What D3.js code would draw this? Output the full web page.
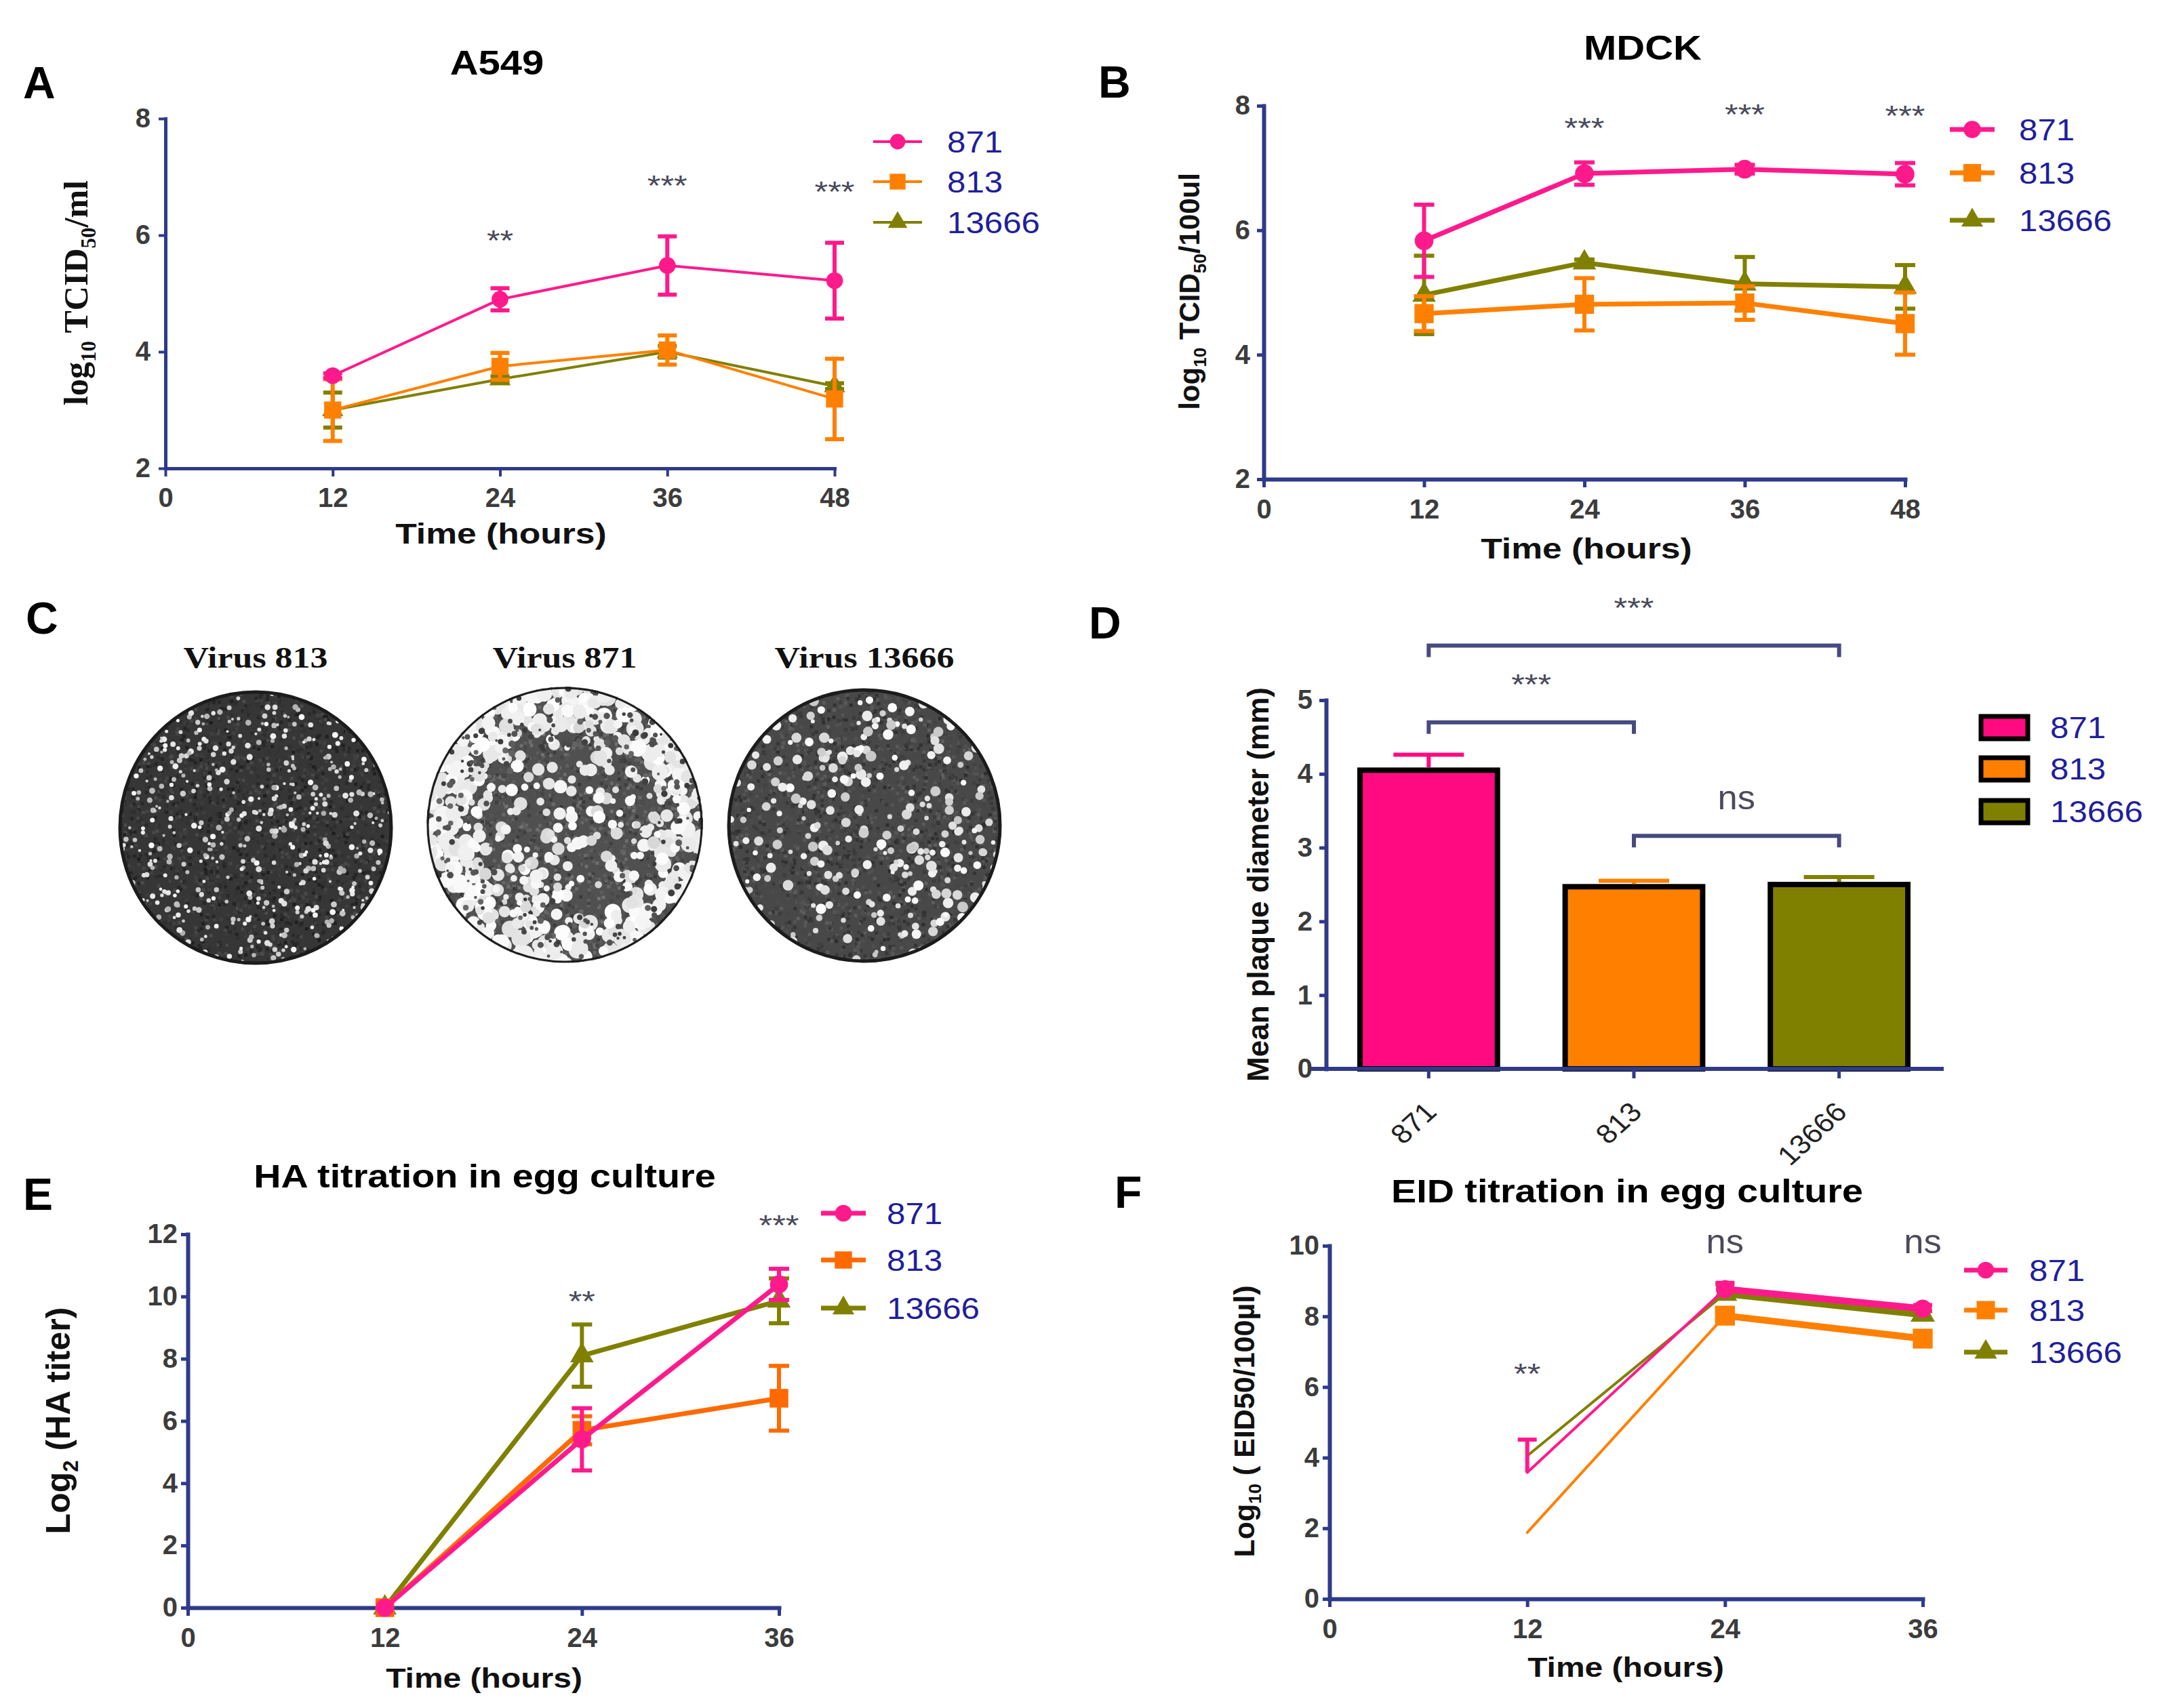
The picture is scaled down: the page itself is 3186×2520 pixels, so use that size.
<!doctype html>
<html lang="en">
<head>
<meta charset="utf-8">
<title>Virus growth and plaque panels</title>
<script src="https://cdn.jsdelivr.net/npm/d3@7"></script>
<style>
  body { margin: 0; background: #fff; }
  svg { display: block; }
  text { white-space: pre; }
</style>
</head>
<body>
<svg id="fig" width="3186" height="2520"></svg>
<script>
// ---- data ----
var strains = ["871", "813", "13666"];
var hours48 = [12, 24, 36, 48];
var hours36 = [12, 24, 36];
var ticksX48 = [0, 12, 24, 36, 48];
var ticksX36 = [0, 12, 24, 36];
var ticksLog = [2, 4, 6, 8];
var ticksHA = [0, 2, 4, 6, 8, 10, 12];
var ticksEID = [0, 2, 4, 6, 8, 10];
var ticksPlaque = [0, 1, 2, 3, 4, 5];

// A: A549, log10 TCID50/ml
var a549_871 = [3.59, 4.90, 5.48, 5.22];
var a549_871_err = [0.04, 0.19, 0.50, 0.65];
var a549_813 = [3.00, 3.75, 4.03, 3.19];
var a549_813_err = [0.53, 0.23, 0.25, 0.69];
var a549_13666 = [3.00, 3.53, 4.00, 3.41];
var a549_13666_err = [0.30, 0.05, 0.10, 0.05];
var a549_sig = ["**", "***", "***"];
var a549_sigAt = [24, 36, 48];
var a549_sigY = [6.03, 6.97, 6.86];

// B: MDCK, log10 TCID50/100ul
var mdck_871 = [5.83, 6.91, 6.98, 6.90];
var mdck_871_err = [0.58, 0.18, 0.07, 0.18];
var mdck_813 = [4.66, 4.81, 4.83, 4.50];
var mdck_813_err = [0.28, 0.42, 0.27, 0.50];
var mdck_13666 = [4.96, 5.48, 5.14, 5.09];
var mdck_13666_err = [0.63, 0.05, 0.43, 0.35];
var mdck_sig = ["***", "***", "***"];
var mdck_sigAt = [24, 36, 48];
var mdck_sigY = [7.75, 7.97, 7.95];

// C: plate titles
var plateTitles = ["Virus 813", "Virus 871", "Virus 13666"];

// D: mean plaque diameter (mm)
var plaqueMean = [4.05, 2.47, 2.50];
var plaqueErr = [0.21, 0.08, 0.10];
var bracketFrom = ["871", "871", "813"];
var bracketTo = ["13666", "813", "13666"];
var bracketY = [5.74, 4.70, 3.16];
var bracketLabel = ["***", "***", "ns"];

// E: HA titration, log2 HA titer
var ha_871 = [0, 5.41, 10.39];
var ha_871_err = [0, 1.00, 0.50];
var ha_813 = [0, 5.70, 6.73];
var ha_813_err = [0, 0.45, 1.04];
var ha_13666 = [0, 8.10, 9.86];
var ha_13666_err = [0, 1.00, 0.72];
var ha_sig = ["**", "***"];
var ha_sigAt = [24, 36];
var ha_sigY = [10.08, 12.5];

// F: EID titration, log10 EID50/100ul (error bars drawn upward only)
var eid_871 = [3.58, 8.77, 8.22];
var eid_871_err = [0.93, 0.18, 0.10];
var eid_813 = [1.88, 8.02, 7.37];
var eid_813_err = [0, 0.10, 0.10];
var eid_13666 = [4.05, 8.64, 8.05];
var eid_13666_err = [0, 0.26, 0.10];
var eid_sig = ["**", "ns", "ns"];
var eid_sigAt = [12, 24, 36];
var eid_sigY = [6.58, 10.04, 10.04];

// ---- styles ----
var SANS = "'Liberation Sans', Arial, Helvetica, sans-serif";
var SERIF = "'Liberation Serif', 'Times New Roman', serif";
var AXIS = "#2f3a8a";
var LEGEND = "#1f1f9a";
var STAR = "#4a4a5a";
var colorsMain = {"871": "#ff1a8c", "813": "#ff8000", "13666": "#808000"};
var colorsEgg = {"871": "#ff1a8c", "813": "#ff6a00", "13666": "#808000"};
var barColors = {"871": "#ff0a80", "813": "#ff8000", "13666": "#808000"};
var symbols = {"871": d3.symbolCircle, "813": d3.symbolSquare, "13666": d3.symbolTriangle};
var intFmt = d3.format("d");

var svg = d3.select("#fig");
svg.append("rect").attr("width", 3186).attr("height", 2520).attr("fill", "#fff");
var defs = svg.append("defs");

function label(g, str, x, y, o) {
  o = o || {};
  var tr = "translate(" + x + "," + y + ")";
  if (o.sx && o.sx != 1) tr += " scale(" + o.sx + ",1)";
  if (o.rot) tr += " rotate(" + o.rot + ")";
  return g.append("text")
    .attr("transform", tr)
    .attr("text-anchor", o.anchor || "start")
    .style("font-family", o.family || SANS)
    .style("font-size", (o.size || 40) + "px")
    .style("font-weight", o.weight || "normal")
    .style("fill", o.fill || "#000")
    .text(str);
}

// text made of [string, isSubscript] parts
function subLabel(g, parts, x, y, o) {
  var t = label(g, "", x, y, o);
  var shift = 0;
  parts.forEach(function (p) {
    var ts = t.append("tspan").text(p[0]);
    var want = p[1] ? o.size * 0.24 : 0;
    if (want != shift) ts.attr("dy", want - shift);
    if (p[1]) ts.style("font-size", (o.size * 0.62) + "px");
    shift = want;
  });
  return t;
}

function styleAxis(ax, w) {
  ax.select(".domain").attr("stroke", AXIS).attr("stroke-width", w).attr("stroke-linecap", "square");
  ax.selectAll(".tick line").attr("stroke", AXIS).attr("stroke-width", w - 1);
  ax.selectAll(".tick text")
    .style("font-family", SANS).style("font-size", "40px").style("font-weight", "bold")
    .attr("fill", "#3c3c3c");
}

function sigLabels(g, labels, xs, ys) {
  labels.forEach(function (s, i) {
    var isNs = s == "ns";
    var size = isNs ? 50 : 42;
    label(g, s, xs[i], ys[i] + (isNs ? 0.26 : 0.58) * size,
      {size: size, sx: isNs ? 1.05 : 1.2, anchor: "middle", fill: STAR});
  });
}

function linePanel(p) {
  var x = d3.scaleLinear().domain([0, p.xMax]).range([p.left, p.right]);
  var y = d3.scaleLinear().domain(p.yDomain).range([p.bottom, p.top]);
  var g = svg.append("g");

  var ax = g.append("g").attr("transform", "translate(0," + p.bottom + ")")
    .call(d3.axisBottom(x).tickValues(p.xTicks).tickFormat(intFmt).tickSize(12).tickSizeOuter(0).tickPadding(p.xPad));
  var ay = g.append("g").attr("transform", "translate(" + p.left + ",0)")
    .call(d3.axisLeft(y).tickValues(p.yTicks).tickFormat(intFmt).tickSize(10).tickSizeOuter(0).tickPadding(p.yPad));
  styleAxis(ax, p.axisW);
  styleAxis(ay, p.axisW);

  // 871 last so it sits on top
  p.series.slice().reverse().forEach(function (s) {
    var c = p.colors[s.name];
    var pts = p.times.map(function (t, i) { return {t: t, v: s.mean[i], e: s.err[i]}; });

    for (var i = 1; i < pts.length; i++) {
      g.append("line")
        .attr("x1", x(pts[i - 1].t)).attr("y1", y(pts[i - 1].v))
        .attr("x2", x(pts[i].t)).attr("y2", y(pts[i].v))
        .attr("stroke", c).attr("stroke-linecap", "round")
        .attr("stroke-width", p.segW ? p.segW[i - 1] : p.lineW);
    }

    pts.forEach(function (d) {
      if (!d.e) return;
      var hi = y(d.v + d.e), lo = p.upOnly ? y(d.v) : y(d.v - d.e);
      g.append("line").attr("x1", x(d.t)).attr("x2", x(d.t)).attr("y1", lo).attr("y2", hi)
        .attr("stroke", c).attr("stroke-width", p.barW);
      (p.upOnly ? [hi] : [hi, lo]).forEach(function (cy) {
        g.append("line").attr("x1", x(d.t) - p.capW / 2).attr("x2", x(d.t) + p.capW / 2)
          .attr("y1", cy).attr("y2", cy).attr("stroke", c).attr("stroke-width", p.barW);
      });
    });

    g.selectAll(null).data(pts.slice(p.markFrom || 0)).enter().append("path")
      .attr("transform", function (d) { return "translate(" + x(d.t) + "," + y(d.v) + ")"; })
      .attr("d", d3.symbol().type(symbols[s.name]).size(p.sym[s.name]))
      .attr("fill", c);
  });

  // legend
  strains.forEach(function (name, i) {
    var ly = p.legY[i], c = p.colors[name];
    g.append("line").attr("x1", p.legX).attr("x2", p.legX + p.legLen).attr("y1", ly).attr("y2", ly)
      .attr("stroke", c).attr("stroke-width", p.legLineW);
    g.append("path").attr("transform", "translate(" + (p.legX + p.legLen / 2) + "," + ly + ")")
      .attr("d", d3.symbol().type(symbols[name]).size(p.sym[name] * 0.85)).attr("fill", c);
    label(g, name, p.legText, ly + 16, {size: 44, sx: 1.12, fill: LEGEND});
  });

  sigLabels(g, p.sig, p.sigAt.map(x), p.sigY.map(y));

  label(g, p.letter, p.letterX, p.letterY, {size: 66, weight: "bold"});
  label(g, p.title, p.titleX, p.titleY, {size: p.titleSize, sx: 1.16, weight: "bold", anchor: "middle"});
  label(g, "Time (hours)", p.xtX, p.xtY, {size: p.xtSize, sx: 1.2, weight: "bold", anchor: "middle", fill: "#111"});
  subLabel(g, p.ytParts, p.ytX, p.ytY, {size: p.ytSize, weight: "bold", anchor: "middle", rot: -90, family: p.ytFamily || SANS, fill: "#111"});
}

// ---- A ----
linePanel({
  left: 244, right: 1231, top: 175, bottom: 691, xMax: 48, yDomain: [2, 8],
  xTicks: ticksX48, yTicks: ticksLog, xPad: 17, yPad: 12, axisW: 5,
  times: hours48, colors: colorsMain,
  series: [
    {name: "871", mean: a549_871, err: a549_871_err},
    {name: "813", mean: a549_813, err: a549_813_err},
    {name: "13666", mean: a549_13666, err: a549_13666_err}
  ],
  lineW: 4, barW: 6, capW: 28,
  sym: {"871": 480, "813": 640, "13666": 420},
  legX: 1288, legLen: 72, legY: [209, 268, 328], legText: 1397, legLineW: 4,
  sig: a549_sig, sigAt: a549_sigAt, sigY: a549_sigY,
  letter: "A", letterX: 34, letterY: 145,
  title: "A549", titleX: 733, titleY: 110, titleSize: 50,
  xtX: 739, xtY: 802, xtSize: 43,
  ytParts: [["log", 0], ["10", 1], [" TCID", 0], ["50", 1], ["/ml", 0]], ytX: 129, ytY: 432, ytSize: 50, ytFamily: SERIF
});

// ---- B ----
linePanel({
  left: 1864, right: 2810, top: 156, bottom: 707, xMax: 48, yDomain: [2, 8],
  xTicks: ticksX48, yTicks: ticksLog, xPad: 18, yPad: 10, axisW: 6,
  times: hours48, colors: colorsMain,
  series: [
    {name: "871", mean: mdck_871, err: mdck_871_err},
    {name: "813", mean: mdck_813, err: mdck_813_err},
    {name: "13666", mean: mdck_13666, err: mdck_13666_err}
  ],
  lineW: 7, barW: 6, capW: 30,
  sym: {"871": 600, "813": 800, "13666": 520},
  legX: 2876, legLen: 66, legY: [191, 255, 325], legText: 2978, legLineW: 7,
  sig: mdck_sig, sigAt: mdck_sigAt, sigY: mdck_sigY,
  letter: "B", letterX: 1620, letterY: 144,
  title: "MDCK", titleX: 2423, titleY: 88, titleSize: 50,
  xtX: 2340, xtY: 824, xtSize: 43,
  ytParts: [["log", 0], ["10", 1], [" TCID", 0], ["50", 1], ["/100ul", 0]], ytX: 1769, ytY: 430, ytSize: 42
});

// ---- E ----
linePanel({
  left: 277, right: 1149, top: 1821, bottom: 2372, xMax: 36, yDomain: [0, 12],
  xTicks: ticksX36, yTicks: ticksHA, xPad: 18, yPad: 5, axisW: 6,
  times: hours36, colors: colorsEgg,
  series: [
    {name: "871", mean: ha_871, err: ha_871_err},
    {name: "813", mean: ha_813, err: ha_813_err},
    {name: "13666", mean: ha_13666, err: ha_13666_err}
  ],
  lineW: 7, barW: 6, capW: 30,
  sym: {"871": 560, "813": 760, "13666": 520},
  legX: 1211, legLen: 66, legY: [1790, 1859, 1930], legText: 1308, legLineW: 7,
  sig: ha_sig, sigAt: ha_sigAt, sigY: ha_sigY,
  letter: "E", letterX: 34, letterY: 1785,
  title: "HA titration in egg culture", titleX: 715, titleY: 1752, titleSize: 48,
  xtX: 714, xtY: 2490, xtSize: 40,
  ytParts: [["Log", 0], ["2", 1], [" (HA titer)", 0]], ytX: 103, ytY: 2096, ytSize: 50
});

// ---- F ----
linePanel({
  left: 1961, right: 2836, top: 1838, bottom: 2359, xMax: 36, yDomain: [0, 10],
  xTicks: ticksX36, yTicks: ticksEID, xPad: 18, yPad: 5, axisW: 6,
  times: hours36, colors: colorsMain,
  series: [
    {name: "871", mean: eid_871, err: eid_871_err},
    {name: "813", mean: eid_813, err: eid_813_err},
    {name: "13666", mean: eid_13666, err: eid_13666_err}
  ],
  segW: [4, 10], barW: 6, capW: 28, upOnly: true, markFrom: 1,
  sym: {"871": 560, "813": 860, "13666": 560},
  legX: 2897, legLen: 64, legY: [1874, 1933, 1995], legText: 2993, legLineW: 7,
  sig: eid_sig, sigAt: eid_sigAt, sigY: eid_sigY,
  letter: "F", letterX: 1644, letterY: 1782,
  title: "EID titration in egg culture", titleX: 2400, titleY: 1774, titleSize: 48,
  xtX: 2398, xtY: 2474, xtSize: 40,
  ytParts: [["Log", 0], ["10", 1], [" ( EID50/100\u00b5l)", 0]], ytX: 1850, ytY: 2097, ytSize: 43
});

// ---- C: plaque plates (photo texture, seeded so it is the same every run) ----
function plate(id, cx, cy, r, st) {
  defs.append("clipPath").attr("id", id).append("circle").attr("cx", cx).attr("cy", cy).attr("r", r);
  var g = svg.append("g").attr("clip-path", "url(#" + id + ")");
  var rnd = d3.randomLcg(st.seed);
  g.append("circle").attr("cx", cx).attr("cy", cy).attr("r", r).attr("fill", st.base);
  for (var k = 0; k < 2600; k++) {
    var v = Math.round(st.grain[0] + rnd() * (st.grain[1] - st.grain[0]));
    g.append("rect").attr("x", cx - r + rnd() * 2 * r).attr("y", cy - r + rnd() * 2 * r)
      .attr("width", 5).attr("height", 5).attr("fill", d3.rgb(v, v, v));
  }
  st.spots.forEach(function (sp) {
    for (var k = 0; k < sp.n; k++) {
      var a = rnd() * 2 * Math.PI;
      var rr = r * Math.sqrt(sp.r0 * sp.r0 + rnd() * (sp.r1 * sp.r1 - sp.r0 * sp.r0));
      var v = Math.round(sp.c0 + rnd() * (sp.c1 - sp.c0));
      g.append("circle").attr("cx", cx + rr * Math.cos(a)).attr("cy", cy + rr * Math.sin(a))
        .attr("r", sp.s0 + rnd() * (sp.s1 - sp.s0)).attr("fill", d3.rgb(v, v, v));
    }
  });
  svg.append("circle").attr("cx", cx).attr("cy", cy).attr("r", r - 2)
    .attr("fill", "none").attr("stroke", "#1c1c1c").attr("stroke-width", st.rim);
}

var gc = svg.append("g");
label(gc, "C", 38, 935, {size: 66, weight: "bold"});
var plateCx = [377, 833, 1275];
plateTitles.forEach(function (t, i) {
  label(gc, t, plateCx[i], 985, {size: 44, sx: 1.18, weight: "bold", anchor: "middle", family: SERIF, fill: "#111"});
});
plate("p813", plateCx[0], 1221, 202, {seed: 11, base: "#363636", grain: [30, 75], rim: 5,
  spots: [{n: 480, r0: 0, r1: 1, s0: 2, s1: 4.5, c0: 175, c1: 250}]});
plate("p871", plateCx[1], 1217, 204, {seed: 23, base: "#505050", grain: [55, 115], rim: 3,
  spots: [{n: 420, r0: 0.72, r1: 1.0, s0: 6, s1: 13, c0: 225, c1: 255},
          {n: 210, r0: 0, r1: 0.76, s0: 4, s1: 10, c0: 215, c1: 255},
          {n: 220, r0: 0.55, r1: 1.0, s0: 2, s1: 5, c0: 55, c1: 105}]});
plate("p13666", plateCx[2], 1218, 202, {seed: 37, base: "#484848", grain: [45, 95], rim: 5,
  spots: [{n: 260, r0: 0, r1: 1, s0: 3, s1: 8, c0: 200, c1: 255}]});

// ---- D: bar chart ----
var gd = svg.append("g");
var xb = d3.scaleBand().domain(strains).range([1956, 2864]).paddingInner(0.33).paddingOuter(0.165);
var yb = d3.scaleLinear().domain([0, 5]).range([1577, 1033]);

gd.selectAll(null).data(strains).enter().append("rect")
  .attr("x", function (d) { return xb(d); })
  .attr("y", function (d, i) { return yb(plaqueMean[i]); })
  .attr("width", xb.bandwidth())
  .attr("height", function (d, i) { return yb(0) - yb(plaqueMean[i]); })
  .attr("fill", function (d) { return barColors[d]; })
  .attr("stroke", "#000").attr("stroke-width", 8);

strains.forEach(function (d, i) {
  var cx = xb(d) + xb.bandwidth() / 2;
  gd.append("line").attr("x1", cx).attr("x2", cx).attr("y1", yb(plaqueMean[i]) - 4).attr("y2", yb(plaqueMean[i] + plaqueErr[i]))
    .attr("stroke", barColors[d]).attr("stroke-width", 6);
  gd.append("line").attr("x1", cx - 52).attr("x2", cx + 52)
    .attr("y1", yb(plaqueMean[i] + plaqueErr[i])).attr("y2", yb(plaqueMean[i] + plaqueErr[i]))
    .attr("stroke", barColors[d]).attr("stroke-width", 6);
});

var dax = gd.append("g").attr("transform", "translate(0,1577)")
  .call(d3.axisBottom(xb).tickSize(14).tickSizeOuter(0));
var day = gd.append("g").attr("transform", "translate(1956,0)")
  .call(d3.axisLeft(yb).tickValues(ticksPlaque).tickFormat(intFmt).tickSize(10).tickSizeOuter(0).tickPadding(10));
styleAxis(dax, 6);
styleAxis(day, 6);
dax.select(".domain").attr("d", "M1936,0H2864");
dax.selectAll(".tick text")
  .attr("x", 0).attr("y", 0).attr("dy", 0)
  .attr("transform", "translate(14,66) scale(1.1,1) rotate(-45)")
  .style("text-anchor", "end").style("font-weight", "normal").style("font-size", "40px").attr("fill", "#222");

bracketLabel.forEach(function (lab, i) {
  var x1 = xb(bracketFrom[i]) + xb.bandwidth() / 2;
  var x2 = xb(bracketTo[i]) + xb.bandwidth() / 2;
  var yt = yb(bracketY[i]);
  gd.append("path").attr("d", "M" + x1 + "," + (yt + 17) + "V" + yt + "H" + x2 + "V" + (yt + 17))
    .attr("fill", "none").attr("stroke", "#464a7e").attr("stroke-width", 6);
  var isNs = lab == "ns";
  sigLabels(gd, [lab], [(x1 + x2) / 2], [yt - (isNs ? 52 : 66)]);
});

strains.forEach(function (d, i) {
  var ly = [1073, 1134, 1197][i];
  gd.append("rect").attr("x", 2922).attr("y", ly - 16).attr("width", 69).attr("height", 33)
    .attr("fill", barColors[d]).attr("stroke", "#000").attr("stroke-width", 7);
  label(gd, d, 3024, ly + 16, {size: 44, sx: 1.12, fill: LEGEND});
});

label(gd, "D", 1606, 942, {size: 66, weight: "bold"});
label(gd, "Mean plaque diameter (mm)", 1871, 1305, {size: 44, weight: "bold", anchor: "middle", rot: -90, fill: "#111"});
</script>
</body>
</html>
